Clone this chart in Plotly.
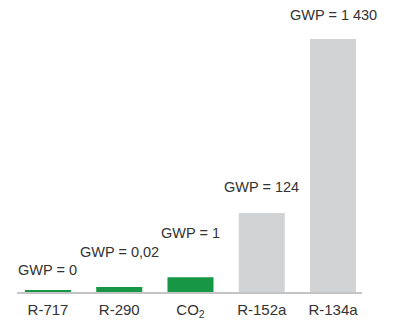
import plotly.graph_objects as go

categories = ["R-717", "R-290", "CO<sub>2</sub>", "R-152a", "R-134a"]
gwp_labels = ["GWP = 0", "GWP = 0,02", "GWP = 1", "GWP = 124", "GWP = 1 430"]
# illustrative bar heights as drawn (not to scale with GWP)
bar_heights = [2, 5, 15, 80, 256]

colors = ["#179645", "#179645", "#179645", "#d2d3d5", "#d2d3d5"]
label_yshift = [10.5, 25.5, 34.5, 15.5, 14.5]

fig = go.Figure(go.Bar(
    x=categories, y=bar_heights, marker_color=colors, marker_line_width=0,
    hoverinfo="skip",
))

for c, h, t, ys in zip(categories, bar_heights, gwp_labels, label_yshift):
    fig.add_annotation(x=c, y=h, text=t, showarrow=False, yanchor="bottom",
                       yshift=ys, font=dict(size=14.5, color="#333333"))

# page body has an 8px margin, so the figure is sized/offset to compensate
fig.update_layout(
    width=390, height=312,
    margin=dict(l=9, r=36, t=0, b=24.5),
    paper_bgcolor="white", plot_bgcolor="white",
    font=dict(family="Liberation Sans, Arial, sans-serif", size=14, color="#333333"),
    bargap=0.354,
    showlegend=False,
    xaxis=dict(range=[-0.435, 4.407], showline=True, linecolor="#c4c4c4", linewidth=1.5,
               showgrid=False, zeroline=False, ticks="", ticklabelstandoff=3,
               tickfont=dict(size=15, color="#333333")),
    yaxis=dict(range=[0, 287.5], visible=False, showgrid=False, zeroline=False),
)

fig.write_html("out.html")
